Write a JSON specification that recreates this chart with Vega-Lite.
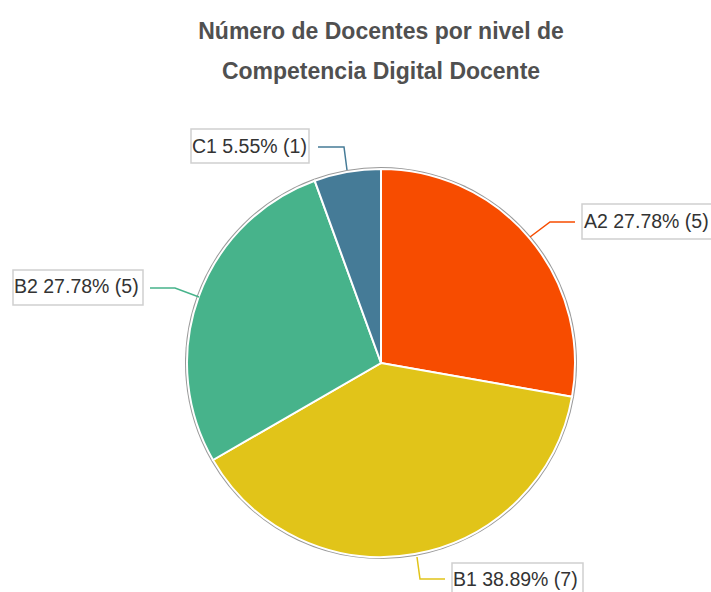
{
  "$schema": "https://vega.github.io/schema/vega-lite/v6.json",
  "width": 500,
  "height": 440,
  "autosize": {"type": "none"},
  "padding": {"left": 131, "top": 143, "right": 80, "bottom": 9},
  "background": "white",
  "title": {
    "text": ["Número de Docentes por nivel de", "Competencia Digital Docente"],
    "font": "Liberation Sans",
    "fontSize": 23,
    "fontWeight": "bold",
    "color": "#505050",
    "lineHeight": 40,
    "anchor": "middle",
    "frame": "group",
    "offset": 44
  },
  "config": {"view": {"stroke": null}},
  "datasets": {
    "slices": [
      {"cat": "A2", "n": 5, "ord": 1},
      {"cat": "B1", "n": 7, "ord": 2},
      {"cat": "B2", "n": 5, "ord": 3},
      {"cat": "C1", "n": 1, "ord": 4}
    ],
    "leaders": [
      {"cat": "A2", "step": 1, "x": 149, "y": 126},
      {"cat": "A2", "step": 2, "x": 169, "y": 141},
      {"cat": "A2", "step": 3, "x": 194, "y": 141},
      {"cat": "B1", "step": 1, "x": 36, "y": -194},
      {"cat": "B1", "step": 2, "x": 39, "y": -216},
      {"cat": "B1", "step": 3, "x": 64, "y": -216},
      {"cat": "B2", "step": 1, "x": -182, "y": 66},
      {"cat": "B2", "step": 2, "x": -206, "y": 75},
      {"cat": "B2", "step": 3, "x": -231, "y": 75},
      {"cat": "C1", "step": 1, "x": -34, "y": 193},
      {"cat": "C1", "step": 2, "x": -37, "y": 216},
      {"cat": "C1", "step": 3, "x": -63, "y": 216}
    ],
    "labels": [
      {"cat": "A2", "label": "A2 27.78% (5)", "tx": 203, "ty": 141, "bx1": 201, "bx2": 340, "by1": 159, "by2": 124},
      {"cat": "B1", "label": "B1 38.89% (7)", "tx": 72, "ty": -217, "bx1": 71, "bx2": 202, "by1": -200, "by2": -235},
      {"cat": "B2", "label": "B2 27.78% (5)", "tx": -367, "ty": 76, "bx1": -368, "bx2": -238, "by1": 93, "by2": 58},
      {"cat": "C1", "label": "C1 5.55% (1)", "tx": -189, "ty": 216, "bx1": -190, "bx2": -72, "by1": 234, "by2": 200}
    ]
  },
  "layer": [
    {
      "data": {"name": "slices"},
      "mark": {"type": "arc", "outerRadius": 196, "color": "#999999"},
      "encoding": {"theta": {"field": "n", "type": "quantitative"}}
    },
    {
      "data": {"name": "slices"},
      "mark": {"type": "arc", "outerRadius": 194, "stroke": "white", "strokeWidth": 2},
      "encoding": {
        "theta": {"field": "n", "type": "quantitative", "stack": true},
        "order": {"field": "ord", "type": "quantitative"},
        "color": {
          "field": "cat",
          "type": "nominal",
          "scale": {"domain": ["A2", "B1", "B2", "C1"], "range": ["#F74C00", "#E1C419", "#47B38B", "#457B97"]},
          "legend": null
        }
      }
    },
    {
      "data": {"name": "leaders"},
      "mark": {"type": "line", "strokeWidth": 1.5},
      "encoding": {
        "x": {"field": "x", "type": "quantitative", "scale": {"domain": [-250, 250], "nice": false, "zero": false}, "axis": null},
        "y": {"field": "y", "type": "quantitative", "scale": {"domain": [-220, 220], "nice": false, "zero": false}, "axis": null},
        "detail": {"field": "cat"},
        "order": {"field": "step", "type": "quantitative"},
        "color": {"field": "cat", "type": "nominal", "legend": null}
      }
    },
    {
      "data": {"name": "labels"},
      "mark": {"type": "rect", "fill": "white", "stroke": "#d0d0d0", "strokeWidth": 1.5},
      "encoding": {
        "x": {"field": "bx1", "type": "quantitative", "scale": {"domain": [-250, 250], "nice": false, "zero": false}, "axis": null},
        "x2": {"field": "bx2"},
        "y": {"field": "by1", "type": "quantitative", "scale": {"domain": [-220, 220], "nice": false, "zero": false}, "axis": null},
        "y2": {"field": "by2"}
      }
    },
    {
      "data": {"name": "labels"},
      "mark": {"type": "text", "align": "left", "baseline": "middle", "font": "Liberation Sans", "fontSize": 19.5, "color": "#333333"},
      "encoding": {
        "x": {"field": "tx", "type": "quantitative", "scale": {"domain": [-250, 250], "nice": false, "zero": false}, "axis": null},
        "y": {"field": "ty", "type": "quantitative", "scale": {"domain": [-220, 220], "nice": false, "zero": false}, "axis": null},
        "text": {"field": "label"}
      }
    }
  ]
}
